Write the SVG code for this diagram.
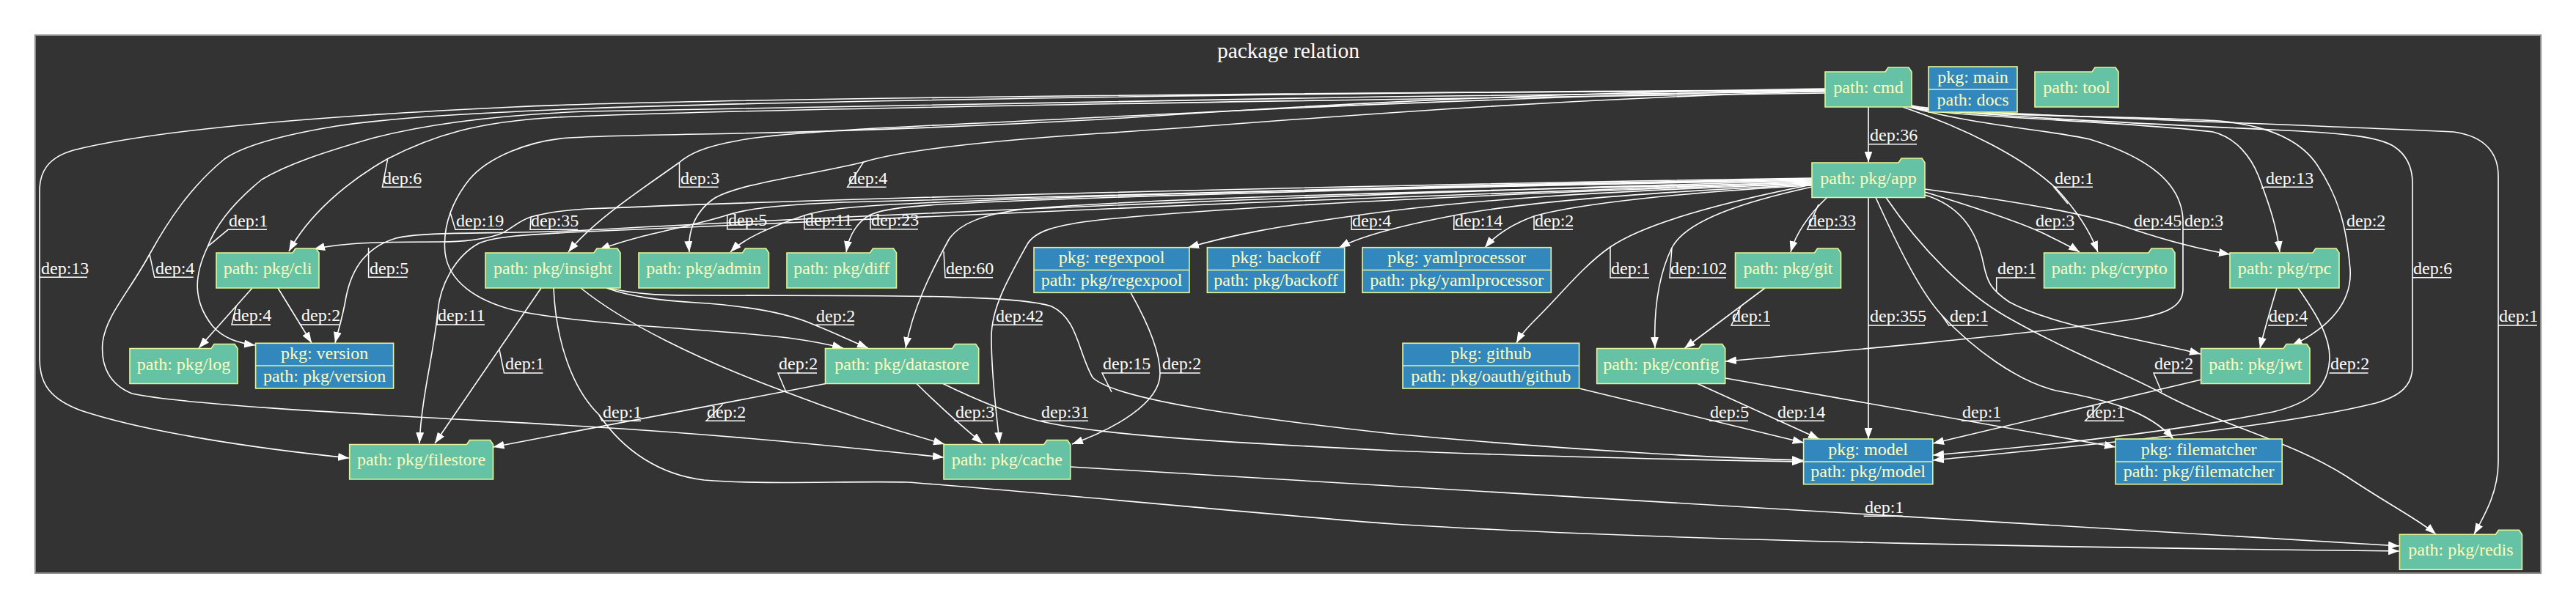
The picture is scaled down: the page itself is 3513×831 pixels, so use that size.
<svg xmlns="http://www.w3.org/2000/svg" width="3513" height="831" viewBox="0 0 3513 831">
<defs>
<marker id="arr" viewBox="0 0 15 11" markerWidth="15" markerHeight="11" refX="15" refY="5.5" orient="auto" markerUnits="userSpaceOnUse">
<path d="M0,0 L15,5.5 L0,11 Z" fill="#ffffff"/>
</marker>
<style>
.fo{fill:#66c2a5;stroke:#e6f598;stroke-width:1.6}
.rec{fill:#3288bd;stroke:#e6f598;stroke-width:1.6}
.sep{stroke:#e6f598;stroke-width:1.6}
.nt{font-family:"Liberation Serif","Times New Roman",serif;font-size:24px;fill:#ffffbf;text-anchor:middle}
.e{fill:none;stroke:#ffffff;stroke-width:1.6;marker-end:url(#arr)}
.d{fill:none;stroke:#ffffff;stroke-width:1.5}
.lt{font-family:"Liberation Serif","Times New Roman",serif;font-size:24px;fill:#ffffff}
.title{font-family:"Liberation Serif","Times New Roman",serif;font-size:29.5px;fill:#ffffff;text-anchor:middle}
</style>
</defs>
<rect width="3513" height="831" fill="#ffffff"/>
<g id="cluster">
<rect x="48" y="48" width="3417" height="734" fill="#333333" stroke="#8a8a8a" stroke-width="2"/>
<text class="title" x="1757" y="79">package relation</text>
</g>

<g id="connectors">
<g id="e-cmd-app"><path class="e" d="M2548,146 L2548,221.5"/><text class="lt" x="2550" y="192">dep:36</text><polyline class="d" points="2549,196.7 2614,196.7"/></g>
<g id="e-cmd-cli"><path class="e" d="M2489,127 C1900,135 1000,148 760,160 C650,166 590,185 528,217 C470,250 420,295 394,343"/><text class="lt" x="522" y="250.5">dep:6</text><polyline class="d" points="528.6,217.3 521.4,255.3 574.4,255.3"/></g>
<g id="e-cmd-version"><path class="e" d="M2489,125 C1900,130 1000,145 800,152 C650,158 560,175 510,188 C440,208 390,225 357,245 C320,275 295,305 283,337 C265,375 262,410 290,445 C305,462 325,468 348,471"/><text class="lt" x="312" y="308.5">dep:1</text><polyline class="d" points="283,336.7 311,313.3 364,313.3"/></g>
<g id="e-cmd-filestore"><path class="e" d="M2489,124 C1700,126 900,136 700,146 C400,160 200,180 100,205 C65,215 54,235 54,260 L54,490 C54,525 70,545 110,560 C200,590 350,612 476,625"/><text class="lt" x="56" y="373.5">dep:13</text><polyline class="d" points="54,378.3 119,378.3"/></g>
<g id="e-cmd-cache"><path class="e" d="M2489,123 C1800,125 1000,140 800,148 C650,154 540,160 459,172 C380,185 330,200 306,217 C260,255 230,300 204,347 C175,400 145,430 140,467 C137,500 150,525 180,537 C260,555 600,570 800,582 C1000,594 1150,610 1287,624"/><text class="lt" x="212" y="373.5">dep:4</text><polyline class="d" points="204,346.7 210.7,378.3 263.7,378.3"/></g>
<g id="e-cmd-insight"><path class="e" d="M2489,122 C2000,135 1700,150 1500,160 C1250,172 1060,180 1006,192 C960,200 940,210 926,222 C880,255 810,300 775,344"/><text class="lt" x="928" y="250.5">dep:3</text><polyline class="d" points="926.5,221.7 926.5,255.3 979.5,255.3"/></g>
<g id="e-cmd-admin"><path class="e" d="M2489,124 C2000,140 1700,170 1500,182 C1350,192 1230,205 1178,221 C1100,240 1010,250 975,270 C945,290 938,320 940,344"/><text class="lt" x="1157" y="250.5">dep:4</text><polyline class="d" points="1178,220.7 1155.6,255.3 1208.6,255.3"/></g>
<g id="e-cmd-datastore"><path class="e" d="M2489,121 C2000,128 1700,150 1500,163 C1300,174 1100,180 1006,182 C900,184 820,185 776,188 C720,192 665,215 640,245 C620,270 603,305 607,345 C612,385 650,410 700,423 C800,445 1000,450 1082,462 C1110,466 1130,470 1150,475"/><text class="lt" x="622" y="308.5">dep:19</text><polyline class="d" points="614,290 621,313.3 686,313.3"/></g>
<g id="e-cmd-crypto"><path class="e" d="M2595,146 C2680,175 2760,215 2805,258 C2830,285 2850,315 2861,344"/><text class="lt" x="2802" y="250.5">dep:1</text><polyline class="d" points="2820,278 2801,255.3 2854,255.3"/></g>
<g id="e-cmd-config"><path class="e" d="M2603,146 C2700,172 2800,178 2850,190 C2930,215 2975,250 2977,300 L2977,395 C2977,420 2950,430 2900,437 C2750,458 2500,480 2353,493"/><text class="lt" x="2979" y="308.5">dep:3</text><polyline class="d" points="2977,313.3 3030,313.3"/></g>
<g id="e-cmd-rpc"><path class="e" d="M2605,146 C2650,160 2900,165 3018,180 C3050,188 3070,215 3080,240 C3095,280 3105,310 3109,344"/><text class="lt" x="3090" y="250.5">dep:13</text><polyline class="d" points="3084,257 3089,255.3 3154,255.3"/></g>
<g id="e-cmd-jwt"><path class="e" d="M2606,146 C2650,158 2900,158 3027,165 C3100,172 3140,195 3160,225 C3190,270 3200,310 3205,367 C3208,410 3180,445 3125,472"/><text class="lt" x="3200" y="308.5">dep:2</text><polyline class="d" points="3199,313.3 3252,313.3"/></g>
<g id="e-cmd-model"><path class="e" d="M2607,145 C2650,156 2950,170 3118,178 C3200,182 3245,187 3265,200 C3283,212 3290,230 3290,250 L3290,500 C3290,525 3275,540 3240,550 C3100,585 2800,612 2636,628"/><text class="lt" x="3291" y="374">dep:6</text><polyline class="d" points="3290,378.7 3343,378.7"/></g>
<g id="e-cmd-redis"><path class="e" d="M2607,144 C2650,155 3100,168 3346,180 C3390,186 3407,210 3407,240 L3407,630 C3407,670 3390,700 3374,729"/><text class="lt" x="3408" y="439.3">dep:1</text><polyline class="d" points="3407,444 3460,444"/></g>

<g id="e-app-cli"><path class="e" d="M2471,243 C2000,250 1200,268 800,285 C765,287 745,290 724,296 C705,302 695,315 680,320 C655,328 625,330 600,330 C540,330 470,330 428,340"/><text class="lt" x="724" y="308.5">dep:35</text><polyline class="d" points="724,296 723,313.3 788,313.3"/></g>
<g id="e-app-insight"><path class="e" d="M2471,244 C2000,252 1400,266 1150,276 C1050,280 1015,286 990,294 C940,310 870,320 817,341"/><text class="lt" x="993" y="308">dep:5</text><polyline class="d" points="991.8,294 991.8,312.7 1044.8,312.7"/></g>
<g id="e-app-admin"><path class="e" d="M2471,245 C2000,253 1400,268 1200,280 C1140,284 1115,288 1097,294 C1050,310 1015,325 996,344"/><text class="lt" x="1098" y="308">dep:11</text><polyline class="d" points="1097,294 1097,312.7 1162,312.7"/></g>
<g id="e-app-diff"><path class="e" d="M2471,246 C2000,254 1500,268 1300,278 C1240,281 1205,285 1187,293 C1170,302 1158,320 1154,344"/><text class="lt" x="1188" y="308">dep:23</text><polyline class="d" points="1187,293 1187,312.7 1252,312.7"/></g>
<g id="e-app-version"><path class="e" d="M2471,247 C2000,258 1200,292 800,314 C680,320 580,315 540,325 C500,337 480,365 472,405 C467,435 460,455 457,468"/><text class="lt" x="504" y="373.5">dep:5</text><polyline class="d" points="502.6,338 502.6,378.3 555.6,378.3"/></g>
<g id="e-app-filestore"><path class="e" d="M2471,248 C2000,262 1200,298 800,316 C720,320 675,322 653,332 C620,350 600,390 597,425 C592,480 575,540 572,605"/><text class="lt" x="597" y="438.3">dep:11</text><polyline class="d" points="597,425 596,443 661,443"/></g>
<g id="e-app-datastore"><path class="e" d="M2471,249 C2100,258 1600,268 1400,285 C1340,292 1310,305 1295,325 C1270,370 1245,420 1235,475"/><text class="lt" x="1290" y="374">dep:60</text><polyline class="d" points="1287,343 1289,378.7 1354,378.7"/></g>
<g id="e-app-cache"><path class="e" d="M2471,250 C2100,262 1700,280 1500,300 C1440,307 1410,315 1400,335 C1375,380 1352,420 1352,460 C1352,520 1360,570 1363,605"/><text class="lt" x="1358" y="438.6">dep:42</text><polyline class="d" points="1353,443.3 1421.6,443.3"/></g>
<g id="e-app-regexpool"><path class="e" d="M2471,251 C2200,260 2000,272 1843,295 C1750,308 1680,320 1620,338"/><text class="lt" x="1844" y="308.5">dep:4</text><polyline class="d" points="1843,295 1843,313.3 1896,313.3"/></g>
<g id="e-app-backoff"><path class="e" d="M2471,252 C2250,262 2080,275 1983,294 C1920,306 1860,320 1826,338"/><text class="lt" x="1984" y="308.5">dep:14</text><polyline class="d" points="1983,294 1982.7,313.3 2047.7,313.3"/></g>
<g id="e-app-yamlprocessor"><path class="e" d="M2471,253 C2300,262 2150,278 2092,295 C2065,305 2040,320 2025,338"/><text class="lt" x="2093" y="308.5">dep:2</text><polyline class="d" points="2092,295 2092,313.3 2145,313.3"/></g>
<g id="e-app-github"><path class="e" d="M2471,252 C2380,270 2250,300 2196,337 C2160,362 2130,400 2100,430 C2085,445 2075,455 2068,468"/><text class="lt" x="2197" y="374.3">dep:1</text><polyline class="d" points="2196,337 2196,379 2249,379"/></g>
<g id="e-app-config"><path class="e" d="M2471,255 C2380,275 2300,300 2280,338 C2262,375 2255,420 2257,475"/><text class="lt" x="2278" y="374.3">dep:102</text><polyline class="d" points="2280,338 2277,379 2354,379"/></g>
<g id="e-app-git"><path class="e" d="M2492,269 C2470,290 2450,315 2442,344"/><text class="lt" x="2466" y="308.5">dep:33</text><polyline class="d" points="2480,279 2464.7,313.3 2529.7,313.3"/></g>
<g id="e-app-model"><path class="e" d="M2548,269.5 L2548,599"/><text class="lt" x="2550" y="439.3">dep:355</text><polyline class="d" points="2548,444 2625,444"/></g>
<g id="e-app-filematcher"><path class="e" d="M2558,269.5 C2590,340 2620,400 2648,430 C2690,475 2750,520 2804,533 C2870,545 2930,560 2964,599"/><text class="lt" x="2659" y="439.3">dep:1</text><polyline class="d" points="2648,430 2657.6,444 2710.6,444"/></g>
<g id="e-app-crypto"><path class="e" d="M2625,262 C2700,285 2760,305 2790,320 C2810,330 2825,337 2836,344"/><text class="lt" x="2776" y="308.5">dep:3</text><polyline class="d" points="2775,313.3 2828,313.3"/></g>
<g id="e-app-rpc"><path class="e" d="M2625,258 C2750,275 2850,292 2909,313 C2960,330 3000,340 3041,347"/><text class="lt" x="2910" y="308.5">dep:45</text><polyline class="d" points="2909,313.3 2974,313.3"/></g>
<g id="e-app-jwt"><path class="e" d="M2625,266 C2670,280 2695,310 2705,360 C2710,385 2715,395 2740,412 C2800,445 2930,465 3001,483"/><text class="lt" x="2724" y="374.3">dep:1</text><polyline class="d" points="2722.7,398 2722.7,379 2775.7,379"/></g>
<g id="e-app-redis"><path class="e" d="M2572,269.5 C2620,340 2680,400 2736,432 C2820,480 2900,510 2949,537 C3040,585 3120,600 3200,650 C3260,690 3300,710 3322,729"/><text class="lt" x="2938" y="504.3">dep:2</text><polyline class="d" points="2948,535 2937,509 2990,509"/></g>

<g id="e-cli-log"><path class="e" d="M344,393 L271,475"/><text class="lt" x="317" y="438.3">dep:4</text><polyline class="d" points="322,418 316,443 369,443"/></g>
<g id="e-cli-version"><path class="e" d="M379,393 L425,468"/><text class="lt" x="411" y="438.3">dep:2</text><polyline class="d" points="409.7,443 462.7,443"/></g>

<g id="e-insight-filestore"><path class="e" d="M738,393 L593,605"/><text class="lt" x="689" y="504.3">dep:1</text><polyline class="d" points="681,477 687.5,509 740.5,509"/></g>
<g id="e-insight-datastore"><path class="e" d="M827,393 C860,405 900,410 950,413 C1030,418 1080,430 1110,443 C1140,455 1160,465 1184,475"/><text class="lt" x="1113" y="438.6">dep:2</text><polyline class="d" points="1112,443.3 1165,443.3"/></g>
<g id="e-insight-cache"><path class="e" d="M792,393 C850,440 950,490 1072,535 C1150,565 1230,590 1288,606"/><text class="lt" x="1062" y="504.3">dep:2</text><polyline class="d" points="1072,535 1061,509 1114,509"/></g>
<g id="e-insight-model"><path class="e" d="M830,393 C870,402 900,403 953,403 C1150,404 1380,400 1434,418 C1470,435 1470,480 1490,515 C1520,545 1700,570 1900,592 C2150,615 2350,625 2459,628"/><text class="lt" x="1504" y="504.3">dep:15</text><polyline class="d" points="1516,535 1503,509 1568,509"/></g>
<g id="e-insight-redis"><path class="e" d="M755,393 C758,465 780,530 817,566 C850,615 900,648 960,655 C1050,662 1150,656 1238,658 C1400,670 1700,700 1900,715 C2300,740 2900,748 3272,752"/><text class="lt" x="822" y="569.6">dep:1</text><polyline class="d" points="817,566 821,574.3 874,574.3"/></g>

<g id="e-datastore-filestore"><path class="e" d="M1126,523.5 L672.5,610"/><text class="lt" x="964" y="569.6">dep:2</text><polyline class="d" points="985.6,551.7 963,574.3 1016,574.3"/></g>
<g id="e-datastore-cache"><path class="e" d="M1250,523.5 Q1295,568 1340,605"/><text class="lt" x="1303" y="569.6">dep:3</text><polyline class="d" points="1301.5,574.3 1354.5,574.3"/></g>
<g id="e-datastore-model"><path class="e" d="M1286,523.5 C1330,545 1380,565 1416,574 C1500,595 1700,605 1900,615 C2150,625 2350,628 2459,630"/><text class="lt" x="1420" y="569.6">dep:31</text><polyline class="d" points="1419,574.3 1484,574.3"/></g>

<g id="e-regexpool-cache"><path class="e" d="M1542,399.3 C1565,440 1582,480 1582,510 C1582,550 1520,585 1462,606"/><text class="lt" x="1585" y="504.3">dep:2</text><polyline class="d" points="1582,509 1636.7,509"/></g>
<g id="e-git-config"><path class="e" d="M2407,393 L2297,475.5"/><text class="lt" x="2362" y="439.3">dep:1</text><polyline class="d" points="2374,418 2361,444 2414,444"/></g>
<g id="e-config-model"><path class="e" d="M2315,523.5 L2481,599"/><text class="lt" x="2424" y="569.6">dep:14</text><polyline class="d" points="2423,574.3 2488,574.3"/></g>
<g id="e-config-filematcher"><path class="e" d="M2353,516 L2885,610"/><text class="lt" x="2676" y="569.6">dep:1</text><polyline class="d" points="2675,574.3 2728,574.3"/></g>
<g id="e-github-model"><path class="e" d="M2153.6,530 L2459.6,604"/><text class="lt" x="2332" y="569.6">dep:5</text><polyline class="d" points="2331,574.3 2384,574.3"/></g>
<g id="e-rpc-jwt"><path class="e" d="M3105,393 C3097,420 3088,450 3082,475.5"/><text class="lt" x="3094" y="439.3">dep:4</text><polyline class="d" points="3093,444 3146,444"/></g>
<g id="e-rpc-model"><path class="e" d="M3134,393 C3160,430 3178,460 3177,490 C3175,530 3150,550 3100,562 C2950,592 2750,612 2636,621"/><text class="lt" x="3178" y="504.3">dep:2</text><polyline class="d" points="3176.5,509 3229.5,509"/></g>
<g id="e-jwt-model"><path class="e" d="M3002,518 L2636,605"/><text class="lt" x="2845" y="569.6">dep:1</text><polyline class="d" points="2865,551.7 2843.6,574.3 2896.6,574.3"/></g>
<g id="e-cache-redis"><path class="e" d="M1460,637 L3272,745"/><text class="lt" x="2543" y="699.6">dep:1</text><polyline class="d" points="2541.7,704.3 2594.7,704.3"/></g>
</g>

<g id="nodes">
<g id="n-cmd"><path class="fo" d="M2489,98 L2571,98 L2575,92 L2603,92 L2607,98 L2607,146 L2489,146 Z"/><text class="nt" x="2548" y="127">path: cmd</text></g>
<g id="n-main"><rect class="rec" x="2630" y="91" width="121" height="62"/><line class="sep" x1="2630" y1="122" x2="2751" y2="122"/><text class="nt" x="2690.5" y="112.5">pkg: main</text><text class="nt" x="2690.5" y="143.5">path: docs</text></g>
<g id="n-tool"><path class="fo" d="M2775,98 L2853,98 L2857,92 L2885,92 L2889,98 L2889,146 L2775,146 Z"/><text class="nt" x="2832" y="127">path: tool</text></g>
<g id="n-app"><path class="fo" d="M2471,222 L2589,222 L2593,216 L2621,216 L2625,222 L2625,269.5 L2471,269.5 Z"/><text class="nt" x="2548" y="250.7">path: pkg/app</text></g>
<g id="n-cli"><path class="fo" d="M295,345 L399,345 L403,339 L431,339 L435,345 L435,393 L295,393 Z"/><text class="nt" x="365" y="374">path: pkg/cli</text></g>
<g id="n-insight"><path class="fo" d="M662,345 L810,345 L814,339 L842,339 L846,345 L846,393 L662,393 Z"/><text class="nt" x="754" y="374">path: pkg/insight</text></g>
<g id="n-admin"><path class="fo" d="M871,345 L1012.5,345 L1016.5,339 L1044.5,339 L1048.5,345 L1048.5,393 L871,393 Z"/><text class="nt" x="959.7" y="374">path: pkg/admin</text></g>
<g id="n-diff"><path class="fo" d="M1073,345 L1186.5,345 L1190.5,339 L1218.5,339 L1222.5,345 L1222.5,393 L1073,393 Z"/><text class="nt" x="1147.7" y="374">path: pkg/diff</text></g>
<g id="n-regexpool"><rect class="rec" x="1410" y="337.7" width="212" height="61.6"/><line class="sep" x1="1410" y1="368.5" x2="1622" y2="368.5"/><text class="nt" x="1516" y="359.3">pkg: regexpool</text><text class="nt" x="1516" y="390">path: pkg/regexpool</text></g>
<g id="n-backoff"><rect class="rec" x="1646.4" y="337.7" width="187.3" height="61.6"/><line class="sep" x1="1646.4" y1="368.5" x2="1833.7" y2="368.5"/><text class="nt" x="1740" y="359.3">pkg: backoff</text><text class="nt" x="1740" y="390">path: pkg/backoff</text></g>
<g id="n-yamlprocessor"><rect class="rec" x="1858" y="337.7" width="257.3" height="61.6"/><line class="sep" x1="1858" y1="368.5" x2="2115.3" y2="368.5"/><text class="nt" x="1986.6" y="359.3">pkg: yamlprocessor</text><text class="nt" x="1986.6" y="390">path: pkg/yamlprocessor</text></g>
<g id="n-git"><path class="fo" d="M2366.5,345 L2474.5,345 L2478.5,339 L2506.5,339 L2510.5,345 L2510.5,393 L2366.5,393 Z"/><text class="nt" x="2438.5" y="374">path: pkg/git</text></g>
<g id="n-crypto"><path class="fo" d="M2787.5,345 L2930,345 L2934,339 L2962,339 L2966,345 L2966,393 L2787.5,393 Z"/><text class="nt" x="2876.7" y="374">path: pkg/crypto</text></g>
<g id="n-rpc"><path class="fo" d="M3041,345 L3154,345 L3158,339 L3186,339 L3190,345 L3190,393 L3041,393 Z"/><text class="nt" x="3115.5" y="374">path: pkg/rpc</text></g>
<g id="n-log"><path class="fo" d="M177,475.5 L288,475.5 L292,469.5 L320,469.5 L324,475.5 L324,523.5 L177,523.5 Z"/><text class="nt" x="250.5" y="504.5">path: pkg/log</text></g>
<g id="n-version"><rect class="rec" x="348.6" y="468.3" width="188" height="61.7"/><line class="sep" x1="348.6" y1="499" x2="536.6" y2="499"/><text class="nt" x="442.6" y="489.8">pkg: version</text><text class="nt" x="442.6" y="520.5">path: pkg/version</text></g>
<g id="n-datastore"><path class="fo" d="M1125.5,475.5 L1298.7,475.5 L1302.7,469.5 L1330.7,469.5 L1334.7,475.5 L1334.7,523.5 L1125.5,523.5 Z"/><text class="nt" x="1230" y="504.5">path: pkg/datastore</text></g>
<g id="n-github"><rect class="rec" x="1913" y="468.3" width="240.6" height="61.7"/><line class="sep" x1="1913" y1="499" x2="2153.6" y2="499"/><text class="nt" x="2033.3" y="489.8">pkg: github</text><text class="nt" x="2033.3" y="520.5">path: pkg/oauth/github</text></g>
<g id="n-config"><path class="fo" d="M2177.7,475.5 L2316.7,475.5 L2320.7,469.5 L2348.7,469.5 L2352.7,475.5 L2352.7,523.5 L2177.7,523.5 Z"/><text class="nt" x="2265.2" y="504.5">path: pkg/config</text></g>
<g id="n-jwt"><path class="fo" d="M3001.6,475.5 L3114,475.5 L3118,469.5 L3146,469.5 L3150,475.5 L3150,523.5 L3001.6,523.5 Z"/><text class="nt" x="3075.8" y="504.5">path: pkg/jwt</text></g>
<g id="n-filestore"><path class="fo" d="M476.7,606.5 L636.5,606.5 L640.5,600.5 L668.5,600.5 L672.5,606.5 L672.5,654 L476.7,654 Z"/><text class="nt" x="574.6" y="635.3">path: pkg/filestore</text></g>
<g id="n-cache"><path class="fo" d="M1287,606.5 L1423.7,606.5 L1427.7,600.5 L1455.7,600.5 L1459.7,606.5 L1459.7,654 L1287,654 Z"/><text class="nt" x="1373.3" y="635.3">path: pkg/cache</text></g>
<g id="n-model"><rect class="rec" x="2459.6" y="599" width="176.2" height="61.7"/><line class="sep" x1="2459.6" y1="630" x2="2635.8" y2="630"/><text class="nt" x="2547.7" y="620.5">pkg: model</text><text class="nt" x="2547.7" y="651.3">path: pkg/model</text></g>
<g id="n-filematcher"><rect class="rec" x="2885" y="599" width="227.2" height="61.7"/><line class="sep" x1="2885" y1="630" x2="3112.2" y2="630"/><text class="nt" x="2998.6" y="620.5">pkg: filematcher</text><text class="nt" x="2998.6" y="651.3">path: pkg/filematcher</text></g>
<g id="n-redis"><path class="fo" d="M3272.4,729.3 L3403.4,729.3 L3407.4,723.3 L3435.4,723.3 L3439.4,729.3 L3439.4,777.3 L3272.4,777.3 Z"/><text class="nt" x="3355.9" y="758.3">path: pkg/redis</text></g>
</g>
</svg>
